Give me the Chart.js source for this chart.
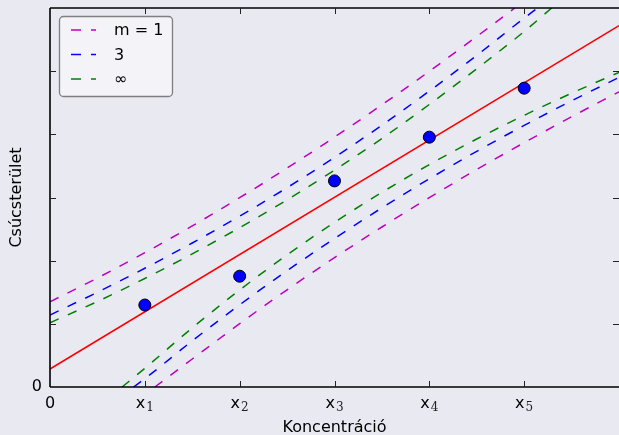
<!DOCTYPE html>
<html>
<head>
<meta charset="utf-8">
<script src="https://cdn.jsdelivr.net/npm/chart.js@4.4.1/dist/chart.umd.min.js"></script>
<style>
  html, body { margin: 0; padding: 0; background: #e9e9f1; }
  canvas { display: block; }
</style>
</head>
<body>
<canvas id="chart" width="619" height="435"></canvas>
<script>
/* Calibration line with prediction bands (m = 1, 3, inf) */

// measured points
const pointX = [1, 2, 3, 4, 5];
const pointY = [1.298, 1.754, 3.263, 3.955, 4.731];

// fitted line (end points)
const fitX = [0, 6];
const fitY = [0.285, 5.72];

// m = 1 band
const m1UpperX = [0, 0.5, 1, 1.5, 2, 2.5, 3, 3.5, 4, 4.5, 4.9];
const m1UpperY = [1.35, 1.726, 2.126, 2.55, 2.997, 3.466, 3.956, 4.467, 4.998, 5.549, 6.0];
const m1LowerX = [1.105, 1.5, 2, 2.5, 3, 3.5, 4, 4.5, 5, 5.5, 6];
const m1LowerY = [0, 0.443, 1.003, 1.538, 2.048, 2.533, 2.998, 3.443, 3.868, 4.278, 4.673];

// m = 3 band
const m3UpperX = [0, 0.5, 1, 1.5, 2, 2.5, 3, 3.5, 4, 4.5, 5, 5.14];
const m3UpperY = [1.14, 1.5, 1.88, 2.28, 2.705, 3.155, 3.635, 4.145, 4.685, 5.25, 5.84, 6.0];
const m3LowerX = [0.88, 1, 1.5, 2, 2.5, 3, 3.5, 4, 4.5, 5, 5.5, 6];
const m3LowerY = [0, 0.131, 0.731, 1.301, 1.841, 2.351, 2.836, 3.296, 3.731, 4.141, 4.531, 4.901];

// m = inf band
const mInfUpperX = [0, 0.5, 1, 1.5, 2, 2.5, 3, 3.5, 4, 4.5, 5, 5.29];
const mInfUpperY = [1.018, 1.353, 1.718, 2.108, 2.523, 2.963, 3.433, 3.933, 4.473, 5.038, 5.628, 6.0];
const mInfLowerX = [0.76, 1, 1.5, 2, 2.5, 3, 3.5, 4, 4.5, 5, 5.5, 6];
const mInfLowerY = [0, 0.296, 0.936, 1.536, 2.091, 2.606, 3.081, 3.521, 3.926, 4.301, 4.651, 4.981];

// axes
const xTickValues = [0, 1, 2, 3, 4, 5];
const xTickLabels = ['0', 'x|1', 'x|2', 'x|3', 'x|4', 'x|5'];
const yTickValues = [0, 1, 2, 3, 4, 5];
const yTickLabels = ['0', '', '', '', '', ''];
const legendLabels = ['m = 1', '3', '\u221E'];

const colors = {
  bg: '#e9e9f1',
  m1: '#bf00bf',
  m3: '#0000ff',
  mInf: '#008000',
  fit: '#ff0000',
  point: '#0000ff',
};

const FONT = '"DejaVu Sans", sans-serif';
const SERIF = '"DejaVu Serif", serif';

function pairs(xs, ys) {
  return xs.map((x, i) => ({ x, y: ys[i] }));
}

function band(data, color) {
  return {
    data,
    borderColor: color,
    borderWidth: 1.5,
    borderDash: [9.5, 10],
    pointRadius: 0,
    fill: false,
    cubicInterpolationMode: 'monotone',
    order: 3,
  };
}

// background, spines, inward ticks, labels and legend
const framePlugin = {
  id: 'frame',
  beforeDraw(chart) {
    const ctx = chart.ctx;
    ctx.save();
    ctx.fillStyle = colors.bg;
    ctx.fillRect(0, 0, chart.width, chart.height);
    ctx.restore();
  },
  afterDraw(chart) {
    const { ctx, chartArea: a } = chart;
    const xs = chart.scales.x, ys = chart.scales.y;
    ctx.save();

    // spines
    ctx.strokeStyle = '#000';
    ctx.lineWidth = 1.6;
    ctx.beginPath();
    ctx.moveTo(a.left, a.bottom); ctx.lineTo(a.left, a.top);
    ctx.moveTo(a.left, a.top);    ctx.lineTo(chart.width, a.top);
    ctx.moveTo(a.left, a.bottom); ctx.lineTo(chart.width, a.bottom);
    ctx.stroke();

    // inward ticks
    ctx.lineWidth = 1;
    ctx.strokeStyle = '#222';
    ctx.beginPath();
    xTickValues.forEach(v => {
      if (v === 0) return;
      const px = Math.round(xs.getPixelForValue(v)) + 0.5;
      ctx.moveTo(px, a.bottom); ctx.lineTo(px, a.bottom - 6);
      ctx.moveTo(px, a.top);    ctx.lineTo(px, a.top + 6);
    });
    [1, 2, 3, 4, 5].forEach(v => {
      const py = Math.round(ys.getPixelForValue(v)) + 0.5;
      ctx.moveTo(a.left, py);  ctx.lineTo(a.left + 6, py);
      ctx.moveTo(a.right, py); ctx.lineTo(a.right - 6, py);
    });
    ctx.stroke();

    // tick labels
    ctx.fillStyle = '#000';
    ctx.textBaseline = 'alphabetic';
    xTickValues.forEach((v, i) => {
      const px = xs.getPixelForValue(v);
      const [main, sub] = xTickLabels[i].split('|');
      ctx.font = '16px ' + FONT;
      const w1 = ctx.measureText(main).width;
      let w2 = 0;
      if (sub) { ctx.font = '12px ' + SERIF; w2 = ctx.measureText(sub).width + 1; }
      const left = px - (w1 + w2) / 2;
      ctx.font = '16px ' + FONT;
      ctx.textAlign = 'left';
      ctx.fillText(main, left, 408);
      if (sub) {
        ctx.font = '12px ' + SERIF;
        ctx.fillStyle = '#222';
        ctx.fillText(sub, left + w1 + 1, 411);
        ctx.fillStyle = '#000';
      }
    });
    ctx.font = '16px ' + FONT;
    ctx.textAlign = 'right';
    ctx.textBaseline = 'middle';
    yTickValues.forEach((v, i) => {
      if (!yTickLabels[i]) return;
      ctx.fillText(yTickLabels[i], a.left - 8, ys.getPixelForValue(v));
    });

    // axis titles
    ctx.textAlign = 'center';
    ctx.textBaseline = 'alphabetic';
    ctx.fillText('Koncentráció', (a.left + a.right) / 2, 432);
    ctx.save();
    ctx.translate(21, (a.top + a.bottom) / 2);
    ctx.rotate(-Math.PI / 2);
    ctx.fillText('Csúcsterület', 0, 0);
    ctx.restore();

    // legend
    const lx = 59.5, ly = 16.5, lw = 113, lh = 80;
    ctx.beginPath();
    ctx.roundRect(lx, ly, lw, lh, 4);
    ctx.fillStyle = '#f3f3f8';
    ctx.fill();
    ctx.strokeStyle = '#7f7f7f';
    ctx.lineWidth = 1.3;
    ctx.stroke();
    const rows = [30, 54.5, 79];
    const legendColors = [colors.m1, colors.m3, colors.mInf];
    rows.forEach((ry, i) => {
      ctx.strokeStyle = legendColors[i];
      ctx.lineWidth = 1.5;
      ctx.setLineDash([10, 10]);
      ctx.beginPath();
      ctx.moveTo(71, ry); ctx.lineTo(96, ry);
      ctx.stroke();
      ctx.setLineDash([]);
      ctx.fillStyle = '#000';
      ctx.font = '16px ' + FONT;
      ctx.textAlign = 'left';
      ctx.textBaseline = 'middle';
      ctx.fillText(legendLabels[i], 114, ry + 1);
    });

    ctx.restore();
  },
};

new Chart(document.getElementById('chart'), {
  type: 'line',
  data: {
    datasets: [
      {
        data: pairs(pointX, pointY),
        showLine: false,
        pointRadius: 6,
        pointBackgroundColor: colors.point,
        pointBorderColor: '#000',
        pointBorderWidth: 1,
        order: 0,
      },
      {
        data: pairs(fitX, fitY),
        borderColor: colors.fit,
        borderWidth: 1.5,
        pointRadius: 0,
        fill: false,
        order: 1,
      },
      band(pairs(m1UpperX, m1UpperY), colors.m1),
      band(pairs(m1LowerX, m1LowerY), colors.m1),
      band(pairs(m3UpperX, m3UpperY), colors.m3),
      band(pairs(m3LowerX, m3LowerY), colors.m3),
      band(pairs(mInfUpperX, mInfUpperY), colors.mInf),
      band(pairs(mInfLowerX, mInfLowerY), colors.mInf),
    ],
  },
  options: {
    responsive: false,
    animation: false,
    layout: { autoPadding: false, padding: { left: 50, top: 8, right: 0, bottom: 48 } },
    scales: {
      x: { type: 'linear', min: 0, max: 6, display: false },
      y: { type: 'linear', min: 0, max: 6, display: false },
    },
    plugins: {
      legend: { display: false },
      tooltip: { enabled: false },
    },
  },
  plugins: [framePlugin],
});
</script>
</body>
</html>
